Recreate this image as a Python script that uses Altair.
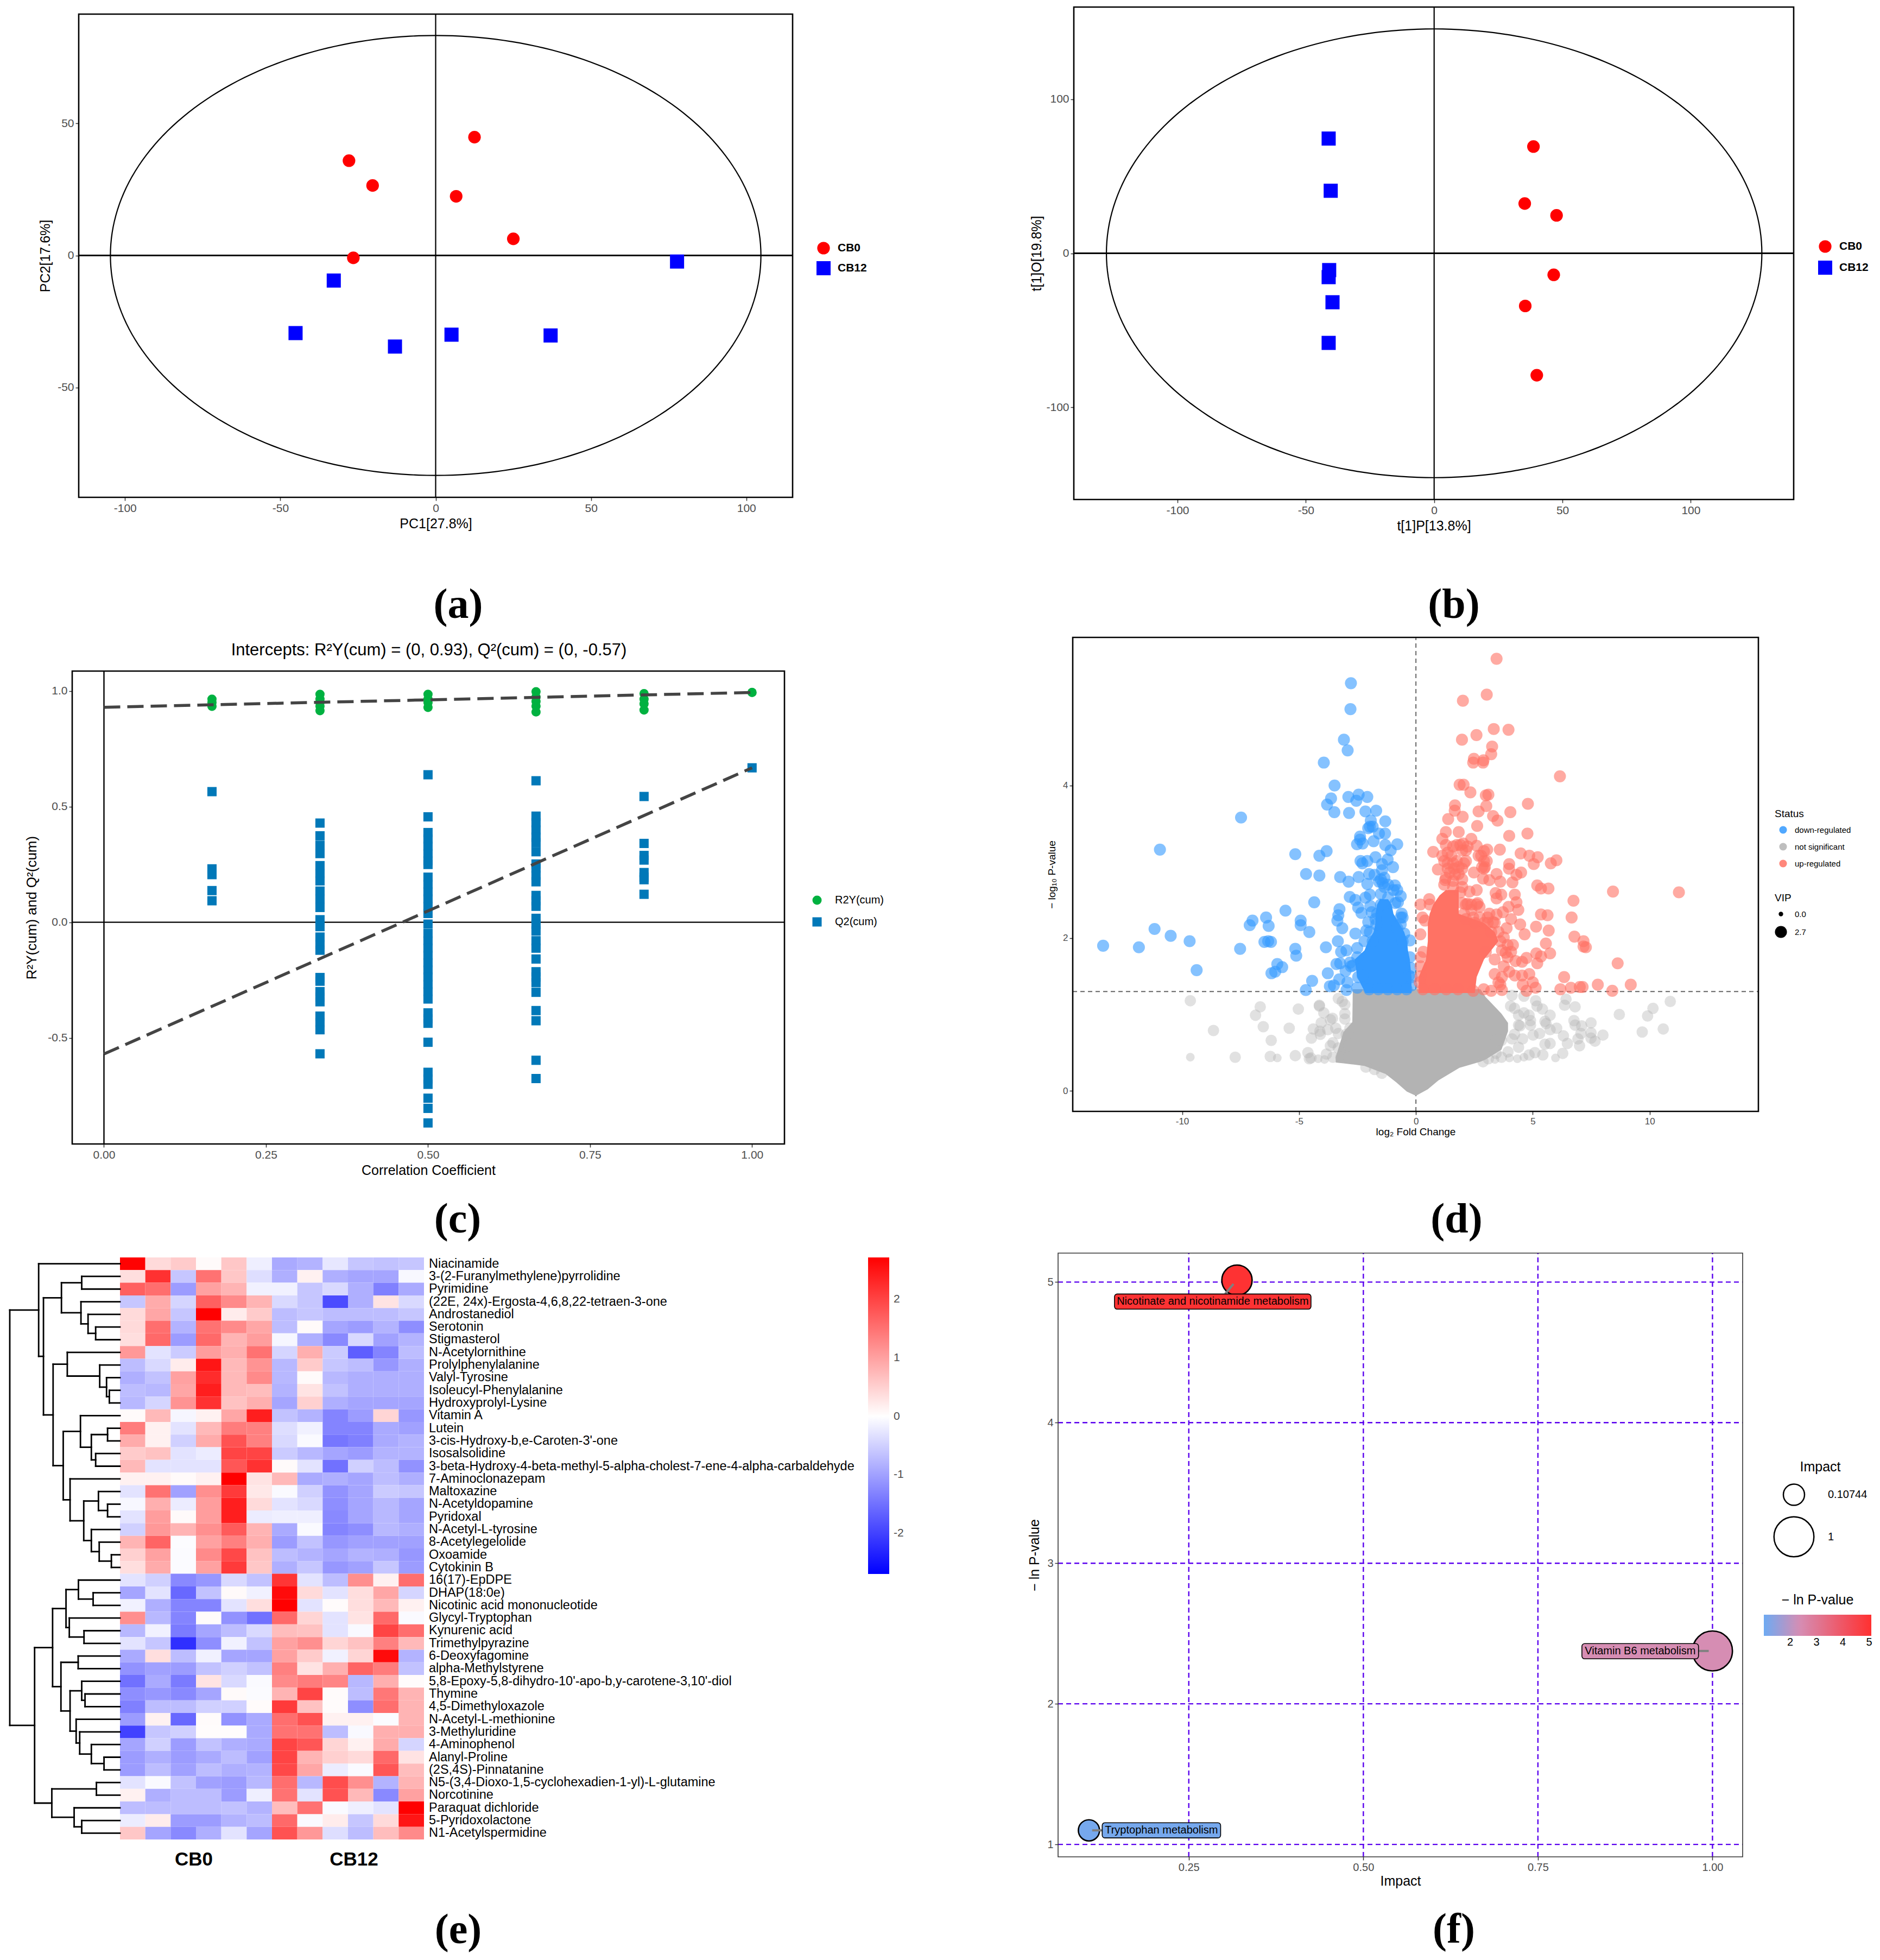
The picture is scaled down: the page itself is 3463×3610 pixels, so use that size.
import numpy as np
import pandas as pd
import altair as alt

FONT = "Liberation Sans"
SERIF = "Liberation Serif"
GREY = "#4D4D4D"
W, H = 3447, 3594

# ---------- (a) PCA ----------
A_CB0 = [(12.5, 44.8), (-27.9, 35.9), (-20.3, 26.5), (6.6, 22.4), (25.0, 6.3), (-26.5, -0.9)]
A_CB12 = [(77.7, -2.3), (-32.8, -9.5), (-45.1, -29.4), (-13.1, -34.5), (5.1, -30.0), (37.0, -30.3)]
A_ELLIPSE = (104.7, 83.3)
# ---------- (b) OPLS-DA ----------
B_CB0 = [(38.7, 69.3), (35.3, 32.3), (47.7, 24.6), (46.6, -14.0), (35.5, -34.2), (40.0, -79.2)]
B_CB12 = [(-41.1, 74.5), (-40.3, 40.6), (-40.9, -10.9), (-41.1, -15.5), (-39.6, -31.8), (-41.1, -58.2)]
B_ELLIPSE = (127.7, 145.7)
# ---------- (c) permutation ----------
C_X = [1 / 6, 2 / 6, 3 / 6, 4 / 6, 5 / 6, 1.0]
C_R2 = [[.965, .95, .934], [.986, .965, .95, .935, .915], [.986, .965, .95, .929],
        [.997, .975, .955, .935, .91], [.989, .965, .945, .918], [.994]]
C_Q2 = [[.565, .231, .206, .137, .093],
        [.429, .374, .333, .297, .245, .211, .179, .135, .101, .064, .011, -.019, -.064, -.096, -.121,
         -.239, -.255, -.30, -.324, -.344, -.406, -.434, -.465, -.569],
        [.638, .456, .388, .36, .329, .297, .266, .25, .195, .164, .132, .101, .069, .038, -.008, -.049,
         -.08, -.112, -.143, -.175, -.206, -.237, -.269, -.30, -.332, -.392, -.418, -.437, -.519, -.649,
         -.678, -.701, -.761, -.805, -.868],
        [.612, .459, .431, .399, .368, .344, .305, .252, .234, .203, .175, .116, .093, .069, .017, -.009,
         -.038, -.08, -.112, -.159, -.214, -.237, -.261, -.303, -.382, -.426, -.597, -.676],
        [.544, .341, .289, .269, .215, .195, .184, .121],
        [.668]]
C_R2_LINE = [.93, .994]
C_Q2_LINE = [-.57, .668]
# ---------- (d) volcano ----------
D_DOWN = [(-2.78,5.34),(-2.80,5.0),(-3.08,4.6),(-2.92,4.46),(-3.94,4.3),(-7.48,3.58),(-10.95,3.16),(-5.16,3.1),(-5.58,2.36),
 (-6.41,2.27),(-6.99,2.23),(-4.93,2.23),(-7.11,2.17),(-6.3,2.16),(-4.93,2.17),(-11.18,2.12),(-10.49,2.03),(-9.68,1.96),
 (-6.48,1.95),(-6.2,1.95),(-6.32,1.96),(-13.38,1.9),(-11.85,1.88),(-7.52,1.86),(-5.16,1.86),(-5.12,1.77),(-5.93,1.66),
 (-5.72,1.62),(-9.38,1.58),(-6.18,1.54),(-6.02,1.56),
 (-3.48,4.0),(-3.63,3.83),(-3.8,3.75),(-3.49,3.65),(-2.89,3.85),(-2.45,3.88),(-2.55,3.8),(-2.08,3.85),(-2.86,3.64),(-2.16,3.66),
 (-1.7,3.67),(-1.93,3.54),(-1.31,3.53),(-1.97,3.46),(-2.04,3.44),(-1.85,3.46),(-1.58,3.37),(-1.32,3.37),(-2.39,3.33),(-2.39,3.29),
 (-2.52,3.23),(-2.28,3.24),(-1.81,3.27),(-1.31,3.22),(-.8,3.23),(-1.08,3.15),(-3.82,3.14),(-4.13,3.08),(-2.37,3.01),(-2.29,2.98),
 (-2.08,3.01),(-1.73,3.06),(-1.21,3.03),(-1.45,2.97),(-.98,2.93),(-4.7,2.84),(-4.13,2.82),(-3.24,2.8),(-2.88,2.74),(-2.45,2.8),
 (-2.0,2.84),(-1.77,2.83),(-1.45,2.89),(-2.08,2.71),(-1.58,2.74),(-1.42,2.72),(-.9,2.69),(-1.35,2.67),(-2.83,2.54),(-2.59,2.5),
 (-2.16,2.53),(-1.97,2.57),(-1.5,2.58),(-.96,2.63),(-.65,2.55),(-4.35,2.47),(-3.27,2.38),(-3.32,2.3),(-3.36,2.23),(-2.47,2.4),
 (-2.33,2.33),(-1.95,2.42),(-.77,2.47),(-1.42,2.41),(-1.66,2.32),(-.61,2.32),(-.57,2.27),(-3.15,2.13),(-2.04,2.21),(-2.12,2.1),
 (-2.59,2.06),(-1.7,2.18),(-.65,2.18),(-4.56,2.08),(-3.34,1.96),(-3.85,1.88),(-.26,1.97),(-3.2,1.82),(-2.97,1.84),(-2.51,1.87),
 (-1.85,1.96),(-3.4,1.66),(-3.24,1.67),(-3.01,1.57),(-2.7,1.64),(-3.77,1.54),(-4.44,1.44),(-3.68,1.37),(-3.28,1.46),(-2.93,1.42),
 (-3.51,1.38),(-2.97,1.32),(-2.51,1.35),(-4.71,1.32),(-2.47,1.49),(-.22,1.61),(-.19,1.38),(-.3,1.51),(-2.78,1.63),(-2.28,1.51),
 (-2.0,1.33),(-1.6,1.33),(-1.2,1.33),(-.8,1.33),(-.4,1.33),
 (-1.5,2.77),(-1.35,2.79),(-1.19,2.7),(-.8,2.63),(-1.19,2.53),(-.88,2.46),(-1.5,2.44),(-1.89,2.34),(-.65,2.27),(-.8,2.13),(-.5,2.06),
 (-.57,1.96),(-1.73,2.25),(-1.97,2.08),(-2.2,1.96),(-2.51,1.75),(-2.82,1.68),(-.26,1.75),(-.19,1.49)]
D_UP = [(3.45,5.66),(3.03,5.19),(2.01,5.11),(3.33,4.74),(3.96,4.73),(2.59,4.66),(1.97,4.6),(3.26,4.51),(3.22,4.41),(2.48,4.35),
 (2.89,4.33),(8.43,2.61),(11.25,2.6),(7.27,1.88),(8.63,1.67),(7.78,1.39),(9.19,1.39),(8.4,1.31),
 (2.45,4.3),(2.87,4.3),(6.16,4.12),(1.87,4.01),(2.04,4.01),(2.33,3.91),(3.1,3.88),(2.99,3.87),(4.79,3.76),(1.67,3.74),(3.01,3.73),
 (1.66,3.67),(2.68,3.66),(4.04,3.65),(2.0,3.59),(1.38,3.56),(3.3,3.6),(3.49,3.54),(2.62,3.47),(1.28,3.39),(1.83,3.39),(3.99,3.34),
 (4.77,3.37),(1.13,3.3),(2.37,3.3),(2.02,3.24),(3.05,3.16),(3.59,3.16),(.74,3.13),(2.6,3.21),(1.75,3.22),(2.21,3.2),(1.98,3.15),
 (4.48,3.11),(4.85,3.08),(5.21,3.06),(5.04,2.97),(6.01,3.02),(5.77,2.98),(1.13,3.08),(1.52,3.08),(1.36,3.12),(2.91,3.14),(2.79,3.08),
 (2.68,3.08),(3.03,3.01),(.94,2.9),(1.36,2.98),(1.75,3.01),(2.06,2.98),(1.36,2.91),(1.63,2.91),(1.98,2.91),(1.67,2.83),(2.48,2.86),
 (2.83,2.93),(2.95,2.93),(3.45,2.84),(3.99,2.97),(3.98,2.91),(4.5,2.86),(4.3,2.83),(2.87,2.78),(3.14,2.76),(3.61,2.74),(4.13,2.73),
 (1.25,2.76),(1.98,2.77),(1.21,2.7),(1.59,2.75),(1.98,2.67),(5.19,2.69),(5.35,2.65),(5.67,2.65),(2.6,2.63),(2.29,2.61),(3.41,2.59),
 (3.65,2.57),(4.23,2.57),(3.45,2.52),(.57,2.51),(.19,2.44),(.59,2.44),(6.74,2.49),(2.64,2.46),(2.21,2.45),(4.3,2.47),(2.72,2.41),
 (3.96,2.41),(4.38,2.37),(5.35,2.31),(5.63,2.3),(3.72,2.34),(3.45,2.31),(2.45,2.27),(2.72,2.27),(6.66,2.27),(.28,2.27),(.39,2.23),
 (4.07,2.25),(4.46,2.18),(3.88,2.13),(5.14,2.15),(5.68,2.1),(4.65,2.05),(3.07,2.27),(3.3,2.21),(.19,2.05),(6.78,2.02),(7.17,1.96),
 (4.15,1.91),(5.56,1.93),(7.17,1.89),(5.74,1.8),(5.15,1.8),(5.35,1.76),(4.73,1.74),(4.26,1.7),(4.54,1.69),(5.19,1.67),(.2,1.75),
 (.32,1.82),(3.84,1.81),(3.76,1.63),(3.99,1.56),(4.85,1.53),(4.54,1.51),(4.23,1.51),(6.34,1.49),(5.0,1.42),(4.57,1.39),(5.12,1.35),
 (6.18,1.33),(6.63,1.35),(7.01,1.36),(7.13,1.36),(3.68,1.49),(3.53,1.42),(3.22,1.31),(3.68,1.32),(2.45,1.31),(4.73,1.31),(.2,1.63),
 (.2,1.5),(.16,1.42),(2.14,2.44),(2.37,2.37),(2.06,2.32),(2.91,2.2),(3.22,2.08),(3.61,1.96),(3.37,1.72),(3.68,1.84),(2.99,1.82),
 (4.07,1.82),(.3,1.33),(.8,1.33),(1.3,1.33),(1.8,1.33),(2.9,1.33),
 (1.28,3.22),(1.59,3.2),(1.9,3.22),(2.14,3.15),(1.21,3.01),(1.59,2.98),(1.83,2.93),(2.14,3.01),(1.44,2.86),(1.83,2.84),(1.28,2.79),
 (1.59,2.67),(1.9,2.6),(2.91,3.01),(2.91,2.91),(1.98,2.46),(2.37,2.44),(2.6,2.44),(2.14,2.25),(2.52,2.2),(3.07,2.2),(3.37,2.2),
 (3.53,2.08),(3.14,2.32),(3.76,2.01),(3.92,1.91),(3.92,1.75),(3.37,1.53),(3.61,1.39)]
D_NS_BIG = [(-9.65,1.18),(-8.66,.79),(-7.73,.44),(10.88,1.17),(10.58,.81),
 (-6.66,1.1),(-6.86,.99),(-5.03,1.07),(-4.13,1.12),(-4.13,1.11),(-6.53,.84),(-5.42,.82),(-6.19,.66),(-3.32,1.21),(-3.15,1.17),(-3.04,1.13),
 (-3.94,1.02),(-3.04,1.01),(-3.57,.95),(-3.66,.93),(-3.04,.94),(-4.05,.89),(-4.39,.81),(-4.11,.78),(-4.09,.74),(-4.47,.69),(-3.77,.8),
 (-3.43,.82),(-3.32,.75),(-2.98,.74),(-2.82,.82),(-3.55,.63),(-3.66,.59),(-3.32,.56),(-2.87,.59),(-4.62,.5),(-3.83,.48),(-3.55,.44),
 (-3.21,.44),(-2.87,.44),(-6.23,.45),(-5.16,.46),(-4.56,.42),(-4.49,.43),(-2.14,.31),(-1.77,.28),(-1.46,.23),
 (4.11,1.25),(4.05,1.11),(4.22,1.08),(4.62,1.24),(5.12,1.18),(5.18,1.11),(5.41,1.07),(6.42,1.2),(6.36,1.12),(6.81,1.1),(5.74,.99),(8.7,1.0),
 (10.14,1.08),(9.91,.98),(9.68,.77),(4.62,1.02),(4.84,.99),(4.39,.99),(4.9,.92),(4.39,.86),(4.45,.85),(4.9,.86),(5.52,.91),(5.57,.88),
 (6.02,.82),(5.74,.8),(6.76,.92),(7.09,.85),(7.49,.89),(6.81,.86),(7.49,.76),(8.0,.73),(7.06,.75),(7.49,.69),(7.66,.65),(6.31,.72),(6.48,.62),
 (6.93,.68),(7.0,.59),(5.74,.62),(5.52,.61),(5.01,.73),(5.29,.75),(4.56,.68),(4.11,.68),(4.39,.57),(3.66,.66),(4.22,.74),(3.43,.66),
 (5.43,.47),(6.28,.49),(5.09,.5),(4.84,.47),(3.94,.51),(3.66,.44),(2.87,.38),(3.1,.42),(3.43,.49),(3.21,.59)]
D_NS_SMALL = [(-9.65,.44),(-5.93,.43),(-4.18,.42),(-3.91,.41),(5.97,.43),(4.62,.44),(4.34,.42),(4.0,.43),(3.38,.41)]
# dense masses where single points merge into a solid colour
NS_MASS_X = [-3.43, -3.1, -2.72, -2.7, -2.2, -1.3, -.84, -.39, 0, .51, .96, 1.86, 2.76, 2.98, 3.66, 3.94]
NS_MASS_LOW = [.37, .36, .345, .345, .325, .22, .11, -.01, -.066, .02, .135, .30, .38, .41, .54, .78]
NS_MASS_HIGH = [.44, .77, .9, 1.33, 1.33, 1.33, 1.33, 1.33, 1.33, 1.33, 1.33, 1.33, 1.33, 1.23, 1.01, .89]
DOWN_MASS_Y = [1.28, 1.49, 1.72, 1.84, 1.96, 2.08, 2.2, 2.32, 2.44, 2.51]
DOWN_MASS_LO = [-2.16, -2.51, -2.62, -2.2, -2.04, -1.81, -1.73, -1.73, -1.66, -1.54]
DOWN_MASS_HI = [-.19, -.19, -.26, -.34, -.38, -.5, -.73, -.96, -1.04, -1.19]
UP_MASS_Y = [1.28, 1.49, 1.72, 1.96, 2.08, 2.2, 2.32, 2.44, 2.56, 2.63]
UP_MASS_LO = [.12, .12, .43, .51, .51, .51, .59, .74, 1.01, 1.28]
UP_MASS_HI = [2.52, 2.6, 2.91, 3.53, 3.37, 2.91, 1.83, 1.83, 1.83, 1.83]
# ---------- (e) heatmap ----------
E_ROWS = ["Niacinamide","3-(2-Furanylmethylene)pyrrolidine","Pyrimidine","(22E, 24x)-Ergosta-4,6,8,22-tetraen-3-one",
 "Androstanediol","Serotonin","Stigmasterol","N-Acetylornithine","Prolylphenylalanine","Valyl-Tyrosine",
 "Isoleucyl-Phenylalanine","Hydroxyprolyl-Lysine","Vitamin A","Lutein","3-cis-Hydroxy-b,e-Caroten-3'-one","Isosalsolidine",
 "3-beta-Hydroxy-4-beta-methyl-5-alpha-cholest-7-ene-4-alpha-carbaldehyde","7-Aminoclonazepam","Maltoxazine",
 "N-Acetyldopamine","Pyridoxal","N-Acetyl-L-tyrosine","8-Acetylegelolide","Oxoamide","Cytokinin B","16(17)-EpDPE",
 "DHAP(18:0e)","Nicotinic acid mononucleotide","Glycyl-Tryptophan","Kynurenic acid","Trimethylpyrazine","6-Deoxyfagomine",
 "alpha-Methylstyrene","5,8-Epoxy-5,8-dihydro-10'-apo-b,y-carotene-3,10'-diol","Thymine","4,5-Dimethyloxazole",
 "N-Acetyl-L-methionine","3-Methyluridine","4-Aminophenol","Alanyl-Proline","(2S,4S)-Pinnatanine",
 "N5-(3,4-Dioxo-1,5-cyclohexadien-1-yl)-L-glutamine","Norcotinine","Paraquat dichloride","5-Pyridoxolactone","N1-Acetylspermidine"]
E_VALUES = [
[2.7,.4,.55,.05,.6,-.17,-.9,-.8,-.25,-.6,-.65,-.6],
[.35,2.2,-.6,1.5,.6,-.35,-.85,.15,-.85,-.95,-.95,-.07],
[1.7,1.55,-1.05,1.0,.8,-.15,-.15,-.6,-.4,-.85,-1.35,-.9],
[-.6,.9,-.45,1.7,1.25,.8,-.4,-.6,-1.9,-.85,.3,-.4],
[.4,.95,-.6,2.72,.2,.55,-.7,-.6,-.7,-.7,-.7,-.6],
[.4,1.55,-.8,1.5,1.25,.95,-.7,.05,-.95,-1.05,-.8,-1.2],
[.35,1.6,-1.05,1.6,.8,1.05,-.1,-.85,-1.25,-.4,-1.0,-.8],
[1.1,-.3,-.55,1.05,.85,1.5,-.45,.85,-.55,-1.7,-1.3,-.7],
[-.7,-.4,.2,2.5,.75,1.15,-.75,.55,-.6,-.7,-1.1,-.85],
[-.85,-.65,1.0,2.25,.75,1.25,-.75,.05,-.75,-.85,-.85,-.85],
[-.7,-.75,.95,2.4,.75,.7,-.8,.3,-.65,-.85,-.85,-.85],
[-.75,-.45,1.15,2.2,.65,.85,-.95,.5,-.85,-.95,-.95,-.95],
[.05,.75,-.1,.15,.95,2.4,-.65,-.8,-1.3,-1.05,.45,-1.1],
[1.4,.15,-.3,.75,1.4,1.35,-.35,-.15,-1.3,-1.3,-.9,-1.0],
[.9,.15,-.5,.9,1.85,1.35,-.4,-.05,-1.45,-1.35,-.9,-.8],
[.55,.65,-.3,-.2,2.0,2.0,-.55,-.75,-.95,-1.05,-.8,-.8],
[.75,-.3,-.3,-.3,1.8,2.2,.05,-.3,-1.5,-.5,-.7,-1.15],
[.15,.15,.05,.15,2.72,.3,.75,-.9,-.85,-.95,-.7,-.85],
[-.3,1.5,-1.0,1.2,2.1,.25,-.05,-.5,-1.15,-.95,-.55,-.6],
[-.08,.85,-.2,1.05,2.4,.4,-.3,-.4,-1.2,-.95,-.75,-.95],
[-.3,1.05,.05,1.05,2.4,-.2,-.17,-.17,-1.25,-.95,-.75,-.95],
[-.5,1.1,.8,1.2,1.75,.8,-.9,-.05,-1.3,-1.2,-.75,-.85],
[.8,1.65,-.03,1.0,1.35,.85,-1.05,-.65,-1.1,-1.0,-1.0,-1.0],
[.5,1.0,-.04,1.25,1.95,.65,-.7,-.8,-.95,-.8,-.85,-1.1],
[.35,.9,-.04,1.0,2.1,.6,-.85,-.6,-1.1,-1.0,-.6,-1.05],
[-.3,-.5,-1.25,-1.1,-.4,-.65,2.15,-.3,-.7,1.2,.15,1.55],
[-.95,-.3,-1.6,-.65,.05,-.15,2.6,.4,-.3,.35,.95,-.45],
[-.15,-.85,-1.3,-1.3,-.3,.35,2.72,-.3,.04,.35,.75,.15],
[1.2,-.75,-1.3,.04,-1.15,-1.5,1.6,.45,-.3,.3,1.6,-.05],
[-.75,-.15,-1.4,-.95,-.7,-.4,.7,.65,-.3,-.06,2.0,1.55],
[-.3,-.6,-2.2,-1.2,-.15,-.65,1.0,1.2,.45,.65,1.35,.75],
[-.9,.35,-.7,-.15,-.95,-.95,1.0,.55,-.15,.45,2.6,-.8],
[-1.15,-1.0,-1.05,-.65,-.5,-.65,1.35,.3,.85,1.65,1.4,-.65],
[-1.5,-.9,-1.4,.3,-.4,-.05,1.25,1.4,1.3,-.75,.85,.04],
[-1.2,-1.1,-1.25,-.95,.05,-.04,.8,2.0,.04,-.7,1.45,.8],
[-1.35,-.7,-.7,-.5,-.5,.04,2.1,.65,.04,-1.2,1.55,.8],
[-1.05,.15,-1.6,.04,-1.15,-.9,1.55,1.85,.15,.15,-.04,.8],
[-2.0,-.6,-.5,.03,.03,-.9,1.5,1.5,-.7,-.06,.85,.85],
[-.95,-.5,-1.05,-.65,-.85,-.9,2.0,1.8,.45,.15,.9,-.45],
[-1.05,-.85,-1.05,-.9,-.7,-1.0,2.0,.8,.5,.4,1.6,.3],
[-1.05,-.7,-1.0,-.7,-.85,-.8,1.95,.95,-.2,-.05,1.8,.7],
[-.3,-.05,-.65,-1.0,-1.05,-.75,1.55,-.75,1.9,1.2,-.8,.8],
[.15,-.85,-.7,-.7,-1.05,-.17,1.5,-.3,1.85,.75,-1.25,1.0],
[-.7,-.7,-.7,-.7,-.65,-.8,.7,1.5,-.05,-.17,-.3,2.72],
[-.2,.2,-1.05,-1.05,-.8,-.7,1.6,-.05,.2,-.6,.4,2.5],
[.6,-.95,-1.25,-.85,-.3,-.95,1.85,1.1,-.35,-.7,.7,1.25]]
# merge tree: (height, left, right); integers are rows
E_TREE = (4.35,
 (3.21, 0, (3.02,
   (2.31, (1.51, 1, 2), (1.54, 3, (1.26, 4, (.96, 5, 6)))),
   (2.64,
     (2.08, 7, (.80, 8, (.53, 9, (.42, 10, 11)))),
     (2.24,
       (1.56, 12, (1.13, (.49, 13, 14), (.96, 15, 16))),
       (1.97, 17, (1.43, (.85, 18, (.49, 19, 20)), (1.13, 21, (.82, 22, (.34, 23, 24))))))))),
 (3.37,
   (2.66,
     (2.13, (1.64, 25, (1.06, 26, 27)), (2.0, 28, (1.42, 29, 30))),
     (2.33, (1.65, 31, 32),
       (1.97, (1.51, 33, (1.38, 34, 35)),
              (1.73, 36, (1.59, 37, (1.13, 38, (.63, 39, 40))))))),
   (2.69, (.93, 41, 42), (1.81, 43, (1.51, 44, 45)))))
# ---------- (f) pathways ----------
F_NAMES = ["Nicotinate and nicotinamide metabolism", "Vitamin B6 metabolism", "Tryptophan metabolism"]
F_IMPACT = [.319, 1.0, .107]
F_SIZE_IMPACT = [.319, 1.0, .10744]
F_LNP = [5.013, 2.376, 1.10]
F_BOX_X = [.1436, .813, .126]
F_BOX_X2 = [.425, .980, .2956]
F_BOX_Y = [4.915, 2.428, 1.154]
F_BOX_Y2 = [4.807, 2.320, 1.046]
F_SEG = [(.314, 4.987, .302, 4.915), (.9946, 2.376, .98, 2.376), (.1116, 1.10, .126, 1.10)]

LAYERS = []
ONE = pd.DataFrame({"a": [0]})


class Panel:
    """A frame whose scales are placed on the shared page by their pixel ranges."""

    def __init__(self, left, top, right, bottom, xdom, ydom, yrev=False):
        self.l, self.t, self.r, self.b = left - 8, top - 8, right - 8, bottom - 8
        self.xdom, self.ydom = xdom, ydom
        self.sx = alt.Scale(domain=xdom, range=[self.l, self.r], nice=False, zero=False)
        yr = [self.t, self.b] if yrev else [self.b, self.t]
        self.sy = alt.Scale(domain=ydom, range=yr, nice=False, zero=False)

    def x(self, field="x", axis=None):
        return alt.X(field, type="quantitative", scale=self.sx, axis=axis)

    def y(self, field="y", axis=None):
        return alt.Y(field, type="quantitative", scale=self.sy, axis=axis)

    def xaxis(self, title, values, fmt="d", size=21, tsize=25, pad=3, tpad=6):
        return axis("bottom", -(H - self.b), title, values, fmt, size, tsize, pad, tpad)

    def yaxis(self, title, values, fmt="d", size=21, tsize=25, pad=3, tpad=6):
        return axis("left", -self.l, title, values, fmt, size, tsize, pad, tpad)

    def vlines(self, xs, axis_=None, **mark):
        df = pd.DataFrame({"x": xs, "y": [self.ydom[0]] * len(xs), "y2": [self.ydom[1]] * len(xs)})
        return alt.Chart(df).mark_rule(**mark).encode(x=self.x(axis=axis_), y=self.y(), y2="y2:Q")

    def hlines(self, ys, axis_=None, **mark):
        df = pd.DataFrame({"y": ys, "x": [self.xdom[0]] * len(ys), "x2": [self.xdom[1]] * len(ys)})
        return alt.Chart(df).mark_rule(**mark).encode(y=self.y(axis=axis_), x=self.x(), x2="x2:Q")

    def frame(self, stroke="black", width=2.6):
        df = pd.DataFrame({"x": [self.xdom[0]], "x2": [self.xdom[1]], "y": [self.ydom[0]], "y2": [self.ydom[1]]})
        return alt.Chart(df).mark_rect(fillOpacity=0, stroke=stroke, strokeWidth=width).encode(
            x=self.x(), x2="x2:Q", y=self.y(), y2="y2:Q")


def axis(orient, offset, title, values, fmt, size, tsize, pad, tpad):
    return alt.Axis(orient=orient, offset=offset, title=title, values=values, format=fmt,
                    labelExpr="replace(datum.label, '\u2212', '-')", grid=False, domain=False,
                    ticks=True, tickColor="#333333", tickSize=6, tickWidth=1.5, labelColor=GREY,
                    labelFontSize=size, titleFontSize=tsize, titleColor="black", titleFontWeight="normal",
                    labelPadding=pad, titlePadding=tpad, labelOverlap=False)


def text_at(txt, px, py, **mark):
    return alt.Chart(ONE).mark_text(baseline="middle", align="center", **mark).encode(
        x=alt.value(px - 8), y=alt.value(py - 8), text=alt.value(txt))


def caption(txt, px, py):
    return text_at(txt, px, py, font=SERIF, fontSize=78, fontWeight="bold", color="black")


def score_panel(p, cb0, cb12, ell, xticks, yticks, xtitle, ytitle, legx, legy, rowpad, ytpad, cap, capx, capy):
    rows = [dict(x=q[0], y=q[1], Group="CB0") for q in cb0] + [dict(x=q[0], y=q[1], Group="CB12") for q in cb12]
    df = pd.DataFrame(rows)
    t = np.linspace(0, 2 * np.pi, 241)
    edf = pd.DataFrame({"x": ell[0] * np.cos(t), "y": ell[1] * np.sin(t), "o": np.arange(241)})
    base = alt.Chart(edf).mark_line(color="black", strokeWidth=2.2).encode(
        x=p.x(axis=p.xaxis(xtitle, xticks)), y=p.y(axis=p.yaxis(ytitle, yticks, tpad=ytpad)), order="o:Q")
    dom = ["CB0", "CB12"]
    leg = alt.Legend(title=None, orient="none", legendX=legx - 8, legendY=legy - 8, symbolSize=620, labelFontSize=21,
                     labelFontWeight="bold", labelColor="black", rowPadding=rowpad, labelOffset=13, symbolStrokeWidth=0)
    pts = alt.Chart(df).mark_point(filled=True, opacity=1).encode(
        x=p.x(), y=p.y(),
        color=alt.Color("Group:N", scale=alt.Scale(domain=dom, range=["#FF0000", "#0000FF"]), legend=leg),
        shape=alt.Shape("Group:N", scale=alt.Scale(domain=dom, range=["circle", "square"]), legend=leg),
        size=alt.Size("Group:N", scale=alt.Scale(domain=dom, range=[540, 676]), legend=None))
    LAYERS.extend([base, p.vlines([0], color="black", strokeWidth=2.2), p.hlines([0], color="black", strokeWidth=2.8),
                   pts, p.frame(), caption(cap, capx, capy)])


score_panel(Panel(145, 26, 1460, 916, [-114.9, 114.9], [-91.6, 91.4]), A_CB0, A_CB12, A_ELLIPSE,
            [-100, -50, 0, 50, 100], [-50, 0, 50], "PC1[27.8%]", "PC2[17.6%]", 1504, 445, 12, 9, "(a)", 844, 1115)
score_panel(Panel(1978, 13, 3304, 920, [-140.4, 140.1], [-159.9, 159.9]), B_CB0, B_CB12, B_ELLIPSE,
            [-100, -50, 0, 50, 100], [-100, 0, 100], "t[1]P[13.8%]", "t[1]O[19.8%]", 3349, 442, 14, 4, "(b)", 2678, 1115)

# panel c
pc = Panel(133, 1236, 1445, 2107, [-.049, 1.05], [-.959, 1.0865])
c_rows = []
for x, vals in zip(C_X, C_R2):
    c_rows += [dict(x=x, y=v, S="R2Y(cum)") for v in vals]
for x, vals in zip(C_X, C_Q2):
    c_rows += [dict(x=x, y=v, S="Q2(cum)") for v in vals]
cdf = pd.DataFrame(c_rows)
cdom = ["R2Y(cum)", "Q2(cum)"]
cleg = alt.Legend(title=None, orient="none", legendX=1487, legendY=1640, symbolSize=290, labelFontSize=20, labelColor="black",
                  rowPadding=20, labelOffset=23, symbolStrokeWidth=0)
c_pts = alt.Chart(cdf).mark_point(filled=True, opacity=1, size=290).encode(
    x=pc.x(axis=pc.xaxis("Correlation Coefficient", [0, .25, .5, .75, 1], ".2f")),
    y=pc.y(axis=pc.yaxis("R\u00b2Y(cum) and Q\u00b2(cum)", [-.5, 0, .5, 1], ".1f", tsize=26, tpad=16)),
    color=alt.Color("S:N", scale=alt.Scale(domain=cdom, range=["#00B140", "#0078B8"]), legend=cleg),
    shape=alt.Shape("S:N", scale=alt.Scale(domain=cdom, range=["circle", "square"]), legend=cleg))
c_lines = alt.Chart(pd.DataFrame({"x": [0, 1, 0, 1], "y": C_R2_LINE + C_Q2_LINE, "k": ["r", "r", "q", "q"]})).mark_line(
    color="#444444", strokeWidth=5.5, strokeDash=[30, 13]).encode(x=pc.x(), y=pc.y(), detail="k:N")
LAYERS.extend([pc.vlines([0], color="black", strokeWidth=2.4), pc.hlines([0], color="black", strokeWidth=2.4), c_pts, c_lines,
               pc.frame(), text_at("Intercepts: R\u00b2Y(cum) = (0, 0.93), Q\u00b2(cum) = (0, -0.57)", 790, 1198, fontSize=31, color="black"),
               caption("(c)", 843, 2247)])

# panel d
pdv = Panel(1976, 1174, 3239, 2047, [-14.68, 14.65], [-.27, 5.94])
ddom = ["down-regulated", "not significant", "up-regulated"]
dcol = ["#3399FF", "#B3B3B3", "#FF7264"]
d_ns = pd.DataFrame([dict(x=q[0], y=q[1], Status="not significant", VIP=2.4) for q in D_NS_BIG] +
                    [dict(x=q[0], y=q[1], Status="not significant", VIP=1.2) for q in D_NS_SMALL])
d_sig = pd.DataFrame([dict(x=q[0], y=q[1], Status="down-regulated", VIP=2.7) for q in D_DOWN] +
                     [dict(x=q[0], y=q[1], Status="up-regulated", VIP=2.7) for q in D_UP])
d_leg_c = alt.Legend(title="Status", orient="none", legendX=3261, legendY=1482, symbolSize=200, symbolOpacity=.85, symbolStrokeWidth=0,
                     titleFontSize=19, labelFontSize=15, labelColor="black", rowPadding=15, symbolOffset=8, labelOffset=14,
                     titlePadding=12, titleFontWeight="normal")
d_leg_s = alt.Legend(title="VIP", orient="none", legendX=3261, legendY=1637, values=[0, 2.7], titleFontSize=19, labelFontSize=15,
                     labelColor="black", rowPadding=13, labelOffset=14, titlePadding=12, symbolFillColor="black", symbolOpacity=1,
                     symbolStrokeWidth=0, titleFontWeight="normal", format=".1f")
dsize = alt.Scale(domain=[0, 2.7], range=[70, 490])
dcs = alt.Scale(domain=ddom, range=dcol)
d_rules = [pdv.vlines([0], color="#666666", strokeWidth=2, strokeDash=[8, 6]),
           pdv.hlines([1.3], color="#666666", strokeWidth=2, strokeDash=[8, 6])]
d_mass_ns = alt.Chart(pd.DataFrame({"x": NS_MASS_X, "lo": NS_MASS_LOW, "hi": NS_MASS_HIGH})).mark_area(color="#B3B3B3").encode(
    x=pdv.x(axis=pdv.xaxis("log\u2082 Fold Change", [-10, -5, 0, 5, 10], size=17, tsize=19, pad=4, tpad=2)),
    y=pdv.y("lo", axis=pdv.yaxis("\u2212 log\u2081\u2080 P-value", [0, 2, 4], size=17, tsize=19, tpad=10)),
    y2="hi:Q")
d_p_ns = alt.Chart(d_ns).mark_circle(opacity=.4).encode(x=pdv.x(), y=pdv.y(), color=alt.Color("Status:N", scale=dcs, legend=None),
                                                        size=alt.Size("VIP:Q", scale=dsize, legend=None))
d_mass_dn = alt.Chart(pd.DataFrame({"y": DOWN_MASS_Y, "a": DOWN_MASS_LO, "b": DOWN_MASS_HI})).mark_area(
    color="#3399FF", orient="horizontal").encode(y=pdv.y(), x=pdv.x("a"), x2="b:Q")
d_mass_up = alt.Chart(pd.DataFrame({"y": UP_MASS_Y, "a": UP_MASS_LO, "b": UP_MASS_HI})).mark_area(
    color="#FF7264", orient="horizontal").encode(y=pdv.y(), x=pdv.x("a"), x2="b:Q")
d_p_sig = alt.Chart(d_sig).mark_circle(opacity=.6).encode(x=pdv.x(), y=pdv.y(), color=alt.Color("Status:N", scale=dcs, legend=d_leg_c),
                                                          size=alt.Size("VIP:Q", scale=dsize, legend=d_leg_s))
LAYERS.extend(d_rules + [d_mass_ns, d_p_ns, d_mass_dn, d_mass_up, d_p_sig, pdv.frame(), caption("(d)", 2683, 2247)])

# panel e
pe = Panel(221, 2316, 781, 3388, [0, 12], [0, 46], yrev=True)
hdf = pd.DataFrame([dict(x=c, x2=c + 1, y=r, y2=r + 1, v=E_VALUES[r][c]) for r in range(46) for c in range(12)])
e_leg = alt.Legend(title=None, orient="none", legendX=1591, legendY=2308, gradientLength=583, gradientThickness=39,
                   values=[-2, -1, 0, 1, 2], format="d", labelExpr="replace(datum.label, '\u2212', '-')", labelFontSize=21,
                   labelColor=GREY, gradientStrokeWidth=0, labelOffset=8, direction="vertical")
heat = alt.Chart(hdf).mark_rect(strokeWidth=0).encode(
    x=pe.x(), x2="x2:Q", y=pe.y(), y2="y2:Q",
    color=alt.Color("v:Q", scale=alt.Scale(domain=[-2.7, 0, 2.72], range=["#0000FF", "#FFFFFF", "#FF0000"], interpolate="rgb"), legend=e_leg))
segs = []


def walk(node):
    if isinstance(node, int):
        return node + .5, 0.0
    h, a, b = node
    ya, ha = walk(a)
    yb, hb = walk(b)
    segs.append(dict(x=-h, y=ya, x2=-h, y2=yb))
    segs.append(dict(x=-h, y=ya, x2=-ha, y2=ya))
    segs.append(dict(x=-h, y=yb, x2=-hb, y2=yb))
    return (ya + yb) / 2, h


walk(E_TREE)
dend = alt.Chart(pd.DataFrame(segs)).mark_rule(color="black", strokeWidth=2.8, strokeCap="square").encode(
    x=pe.x(), y=pe.y(), x2="x2:Q", y2="y2:Q")
names = alt.Chart(pd.DataFrame({"x": [12] * 46, "y": [i + .5 for i in range(46)], "t": E_ROWS})).mark_text(
    align="left", baseline="middle", dx=9, fontSize=23.5, color="black").encode(x=pe.x(), y=pe.y(), text="t:N")
LAYERS.extend([heat, dend, names, text_at("CB0", 357, 3425, fontSize=35, fontWeight="bold", color="black"),
               text_at("CB12", 652, 3425, fontSize=35, fontWeight="bold", color="black"), caption("(e)", 844, 3556)])

# panel f
pf = Panel(1949, 2308, 3210, 3420, [.0628, 1.0432], [.9115, 5.206])
fdf = pd.DataFrame({"x": F_IMPACT, "y": F_LNP, "Impact": F_SIZE_IMPACT, "L": F_LNP, "name": F_NAMES,
                    "bx": F_BOX_X, "bx2": F_BOX_X2, "by": F_BOX_Y, "by2": F_BOX_Y2,
                    "cx": [(a + b) / 2 for a, b in zip(F_BOX_X, F_BOX_X2)], "cy": [(a + b) / 2 for a, b in zip(F_BOX_Y, F_BOX_Y2)]})
VIOLET = "#5A00EE"
fcs = alt.Scale(domain=[1, 2.376, 5.08], range=["#6EAAF2", "#D68DB3", "#FF3030"], interpolate="rgb")
fLeg = alt.Legend(title="\u2212 ln P-value", orient="none", legendX=3241, legendY=2927, direction="horizontal",
                  gradientLength=198, gradientThickness=39, values=[2, 3, 4, 5], titleFontSize=25,
                  labelFontSize=20, labelColor="black", titleAnchor="middle", titleFontWeight="normal",
                  gradientStrokeWidth=0, titlePadding=14, labelOverlap=False)
fSize = alt.Size("Impact:Q", scale=alt.Scale(domain=[.10744, .319, 1], range=[1520, 3117, 5410]),
                 legend=alt.Legend(title="Impact", orient="none", legendX=3258, legendY=2682, values=[.10744, 1], titleFontSize=25,
                                   labelFontSize=20, labelColor="black", titleAnchor="middle", titleFontWeight="normal",
                                   symbolFillColor="white", symbolStrokeColor="black", symbolStrokeWidth=2.5, labelOffset=24,
                                   rowPadding=10, titlePadding=17, labelExpr="'' + datum.value"))
f_pts = alt.Chart(fdf).mark_circle(opacity=1, stroke="black", strokeWidth=2.6).encode(
    x=pf.x(), y=pf.y(), color=alt.Color("L:Q", scale=fcs, legend=fLeg), size=fSize)
f_seg = alt.Chart(pd.DataFrame(F_SEG, columns=["x", "y", "x2", "y2"])).mark_rule(color="#808080", strokeWidth=4).encode(
    x=pf.x(), y=pf.y(), x2="x2:Q", y2="y2:Q")
f_box = alt.Chart(fdf).mark_rect(stroke="black", strokeWidth=1.6, cornerRadius=5).encode(
    x=pf.x("bx"), x2="bx2:Q", y=pf.y("by"), y2="by2:Q", color=alt.Color("L:Q", scale=fcs, legend=None))
f_txt = alt.Chart(fdf).mark_text(fontSize=20, color="black", baseline="middle", align="center").encode(
    x=pf.x("cx"), y=pf.y("cy"), text="name:N")
LAYERS.extend([pf.vlines([.25, .5, .75, 1.0], axis_=pf.xaxis("Impact", [.25, .5, .75, 1], ".2f", size=20, tpad=3),
                         color=VIOLET, strokeWidth=2.4, strokeDash=[9, 6]),
               pf.hlines([1, 2, 3, 4, 5], axis_=pf.yaxis("\u2212 ln P-value", [1, 2, 3, 4, 5], size=20, tpad=10),
                         color=VIOLET, strokeWidth=2.4, strokeDash=[9, 6]),
               f_pts, f_seg, f_box, f_txt, pf.frame("#333333", 1.6), caption("(f)", 2678, 3555)])

ind = dict(x="independent", y="independent", color="independent", shape="independent", size="independent")
chart = (alt.layer(*LAYERS)
         .resolve_scale(**ind)
         .resolve_axis(x="independent", y="independent")
         .resolve_legend(color="independent", shape="independent", size="independent")
         .properties(width=W, height=H, padding=0, autosize=alt.AutoSizeParams(type="none"))
         .configure(font=FONT)
         .configure_view(strokeWidth=0))
chart.save("out.html", embed_options={"renderer": "svg", "actions": False})
